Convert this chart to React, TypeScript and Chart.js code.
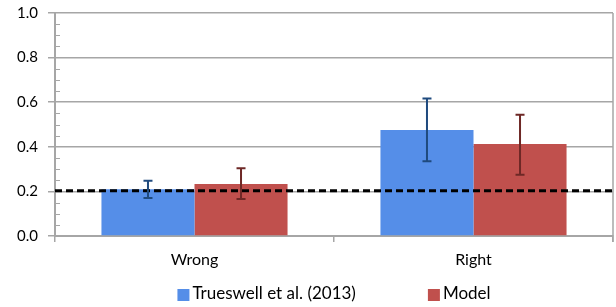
import React, { useEffect, useRef } from "react";
import { Chart, registerables } from "chart.js";

Chart.register(...registerables);

const categories = ["Wrong", "Right"];
const seriesNames = ["Trueswell et al. (2013)", "Model"];
const trueswellValues = [0.21, 0.475];
const trueswellLow = [0.17, 0.335];
const trueswellHigh = [0.248, 0.617];
const modelValues = [0.233, 0.413];
const modelLow = [0.166, 0.275];
const modelHigh = [0.304, 0.544];
const chanceLevel = 0.203;
const yTicks = [0, 0.2, 0.4, 0.6, 0.8, 1.0];
const minorStep = 0.05;

const GRID = "#a6a6a6";
const FONT = "Lato";

const customPlugin = {
  id: "errorBarsAndChance",
  afterDatasetsDraw(chart: any) {
    const ctx = chart.ctx;
    const y = chart.scales.y;
    const area = chart.chartArea;
    // chance line
    ctx.save();
    ctx.strokeStyle = "#000";
    ctx.lineWidth = 3;
    ctx.setLineDash([7, 4]);
    const cy = y.getPixelForValue(chanceLevel);
    ctx.beginPath();
    ctx.moveTo(area.left, cy);
    ctx.lineTo(area.right, cy);
    ctx.stroke();
    ctx.restore();
    // error bars
    chart.data.datasets.forEach((ds: any, di: number) => {
      const meta = chart.getDatasetMeta(di);
      meta.data.forEach((bar: any, i: number) => {
        const x = bar.x;
        const top = y.getPixelForValue(ds.errHigh[i]);
        const bot = y.getPixelForValue(ds.errLow[i]);
        ctx.save();
        ctx.strokeStyle = ds.errColor;
        ctx.lineWidth = 2;
        ctx.beginPath();
        ctx.moveTo(x, top);
        ctx.lineTo(x, bot);
        ctx.moveTo(x - 4.5, top);
        ctx.lineTo(x + 4.5, top);
        ctx.moveTo(x - 4.5, bot);
        ctx.lineTo(x + 4.5, bot);
        ctx.stroke();
        ctx.restore();
      });
    });
  },
  afterDraw(chart: any) {
    const ctx = chart.ctx;
    const y = chart.scales.y;
    const area = chart.chartArea;
    ctx.save();
    // minor ticks inside the plot
    ctx.strokeStyle = GRID;
    ctx.lineWidth = 1;
    for (let v = minorStep; v < 1; v += minorStep) {
      const r = Math.round(v * 100);
      if (r % 20 === 0) continue;
      const py = Math.round(y.getPixelForValue(v)) + 0.5;
      ctx.beginPath();
      ctx.moveTo(area.left, py);
      ctx.lineTo(area.left + 5, py);
      ctx.stroke();
    }
    // right border
    ctx.lineWidth = 1.5;
    ctx.beginPath();
    ctx.moveTo(area.right, area.top);
    ctx.lineTo(area.right, area.bottom + 6);
    ctx.stroke();
    // legend
    ctx.font = `17px ${FONT}`;
    ctx.textBaseline = "middle";
    ctx.textAlign = "left";
    const ds = chart.data.datasets;
    const box = 12;
    const gapText = 3;
    const gapItems = 72;
    const widths = ds.map((d: any) => ctx.measureText(d.label).width);
    const total =
      widths.reduce((a: number, b: number) => a + b, 0) +
      ds.length * (box + gapText) +
      (ds.length - 1) * gapItems;
    let x = (area.left + area.right) / 2 - total / 2;
    const ly = 294;
    ds.forEach((d: any, i: number) => {
      ctx.fillStyle = d.backgroundColor;
      ctx.fillRect(x, ly - box / 2 + 1, box, box);
      x += box + gapText;
      ctx.fillStyle = "#000";
      ctx.fillText(d.label, x, ly);
      x += widths[i] + gapItems;
    });
    ctx.restore();
  },
};

export default function App() {
  const ref = useRef<HTMLCanvasElement | null>(null);
  useEffect(() => {
    document.body.style.margin = "0";
    const chart = new Chart(ref.current as HTMLCanvasElement, {
      type: "bar",
      data: {
        labels: categories,
        datasets: [
          {
            label: seriesNames[0],
            data: trueswellValues,
            backgroundColor: "#558ee8",
            errLow: trueswellLow,
            errHigh: trueswellHigh,
            errColor: "#1f4a7e",
            categoryPercentage: 0.667,
            barPercentage: 1,
          } as any,
          {
            label: seriesNames[1],
            data: modelValues,
            backgroundColor: "#c0504d",
            errLow: modelLow,
            errHigh: modelHigh,
            errColor: "#6e2826",
            categoryPercentage: 0.667,
            barPercentage: 1,
          } as any,
        ],
      },
      options: {
        animation: false,
        responsive: false,
        maintainAspectRatio: false,
        layout: { padding: { top: 13, right: 3, left: 0, bottom: 31 } },
        plugins: {
          tooltip: { enabled: false },
          legend: { display: false },
        },
        scales: {
          x: {
            offset: true,
            afterFit: (s: any) => {
              s.height = 40;
            },
            grid: {
              offset: true,
              drawOnChartArea: false,
              color: GRID,
              tickLength: 6,
              lineWidth: 1.5,
            },
            border: { color: GRID, width: 2 },
            ticks: {
              color: "#000",
              font: { family: FONT, size: 16 },
              padding: 8,
            },
          },
          y: {
            min: 0,
            max: 1,
            afterFit: (s: any) => {
              s.width = 55;
              s.paddingTop = 0;
              s.paddingBottom = 0;
            },
            afterBuildTicks: (s: any) => {
              s.ticks = yTicks.map((v) => ({ value: v }));
            },
            grid: {
              color: GRID,
              lineWidth: 1.5,
              tickLength: 7,
            },
            border: { color: GRID, width: 2 },
            ticks: {
              color: "#000",
              font: { family: FONT, size: 15 },
              padding: 10,
              callback: (v: any) => Number(v).toFixed(1),
            },
          },
        },
      },
      plugins: [customPlugin],
    } as any);
    return () => chart.destroy();
  }, []);
  return (
    <div style={{ width: 616, height: 307, position: "relative" }}>
      <canvas ref={ref} width={616} height={307} />
    </div>
  );
}
